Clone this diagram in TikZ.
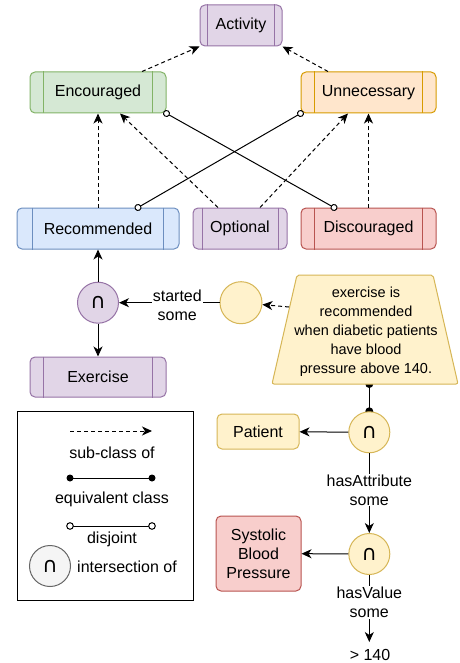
\documentclass[tikz,border=0pt]{standalone}
\usepackage{fontspec}
\setmainfont{Liberation Sans}
\newfontfamily\djv{DejaVu Sans}
\usetikzlibrary{arrows.meta,calc,backgrounds}
\definecolor{pfill}{HTML}{E1D5E7}\definecolor{pline}{HTML}{9673A6}
\definecolor{gfill}{HTML}{D5E8D4}\definecolor{gline}{HTML}{82B366}
\definecolor{ofill}{HTML}{FFE6CC}\definecolor{oline}{HTML}{D79B00}
\definecolor{bfill}{HTML}{DAE8FC}\definecolor{bline}{HTML}{6C8EBF}
\definecolor{rfill}{HTML}{F8CECC}\definecolor{rline}{HTML}{B85450}
\definecolor{yfill}{HTML}{FFF2CC}\definecolor{yline}{HTML}{D6B656}
\definecolor{cfill}{HTML}{F5F5F5}\definecolor{cline}{HTML}{666666}
\newcommand{\procbars}[2]{%
  \draw[#2,line width=1pt] ($(#1.north west)!0.1!(#1.north east)$) -- ($(#1.south west)!0.1!(#1.south east)$);
  \draw[#2,line width=1pt] ($(#1.north west)!0.9!(#1.north east)$) -- ($(#1.south west)!0.9!(#1.south east)$);}
\tikzset{
  txt/.style={font=\fontsize{16pt}{19pt}\selectfont},
  cls/.style={txt, draw, rounded corners=5pt, line width=1pt, minimum height=41pt, inner sep=0pt},
  isect/.style={circle, draw, line width=1pt, minimum size=41pt, inner sep=0pt, font=\djv\fontsize{21pt}{22pt}\selectfont},
  tip/.tip={Stealth[length=10pt,width=9pt,inset=3pt]},
  sub/.style={-tip, dash pattern=on 4pt off 3pt, line width=1pt},
  arr/.style={-tip, line width=1pt},
  disj/.style={{Circle[open,length=7pt,width=7pt,fill=white]}-{Circle[open,length=7pt,width=7pt,fill=white]}, line width=1pt, shorten <=-3.5pt, shorten >=-3.5pt},
  lbl/.style={txt, fill=white, inner sep=1pt, align=center},
}
\begin{document}
\begin{tikzpicture}[x=1pt,y=-1pt]
\useasboundingbox (0,0) rectangle (459,663);
\begin{scope}[on background layer]
\fill[white] (0,0) rectangle (459,663);
\end{scope}
% class boxes
\node[cls, fill=pfill, draw=pline, minimum width=82pt] (act) at (241,25.5) {Activity};
\node[cls, fill=gfill, draw=gline, minimum width=136pt] (enc) at (98,92.5) {Encouraged};
\node[cls, fill=ofill, draw=oline, minimum width=135pt] (unn) at (368.5,92.5) {Unnecessary};
\node[cls, fill=bfill, draw=bline, minimum width=162pt] (rec) at (98,228.5) {Recommended};
\node[cls, fill=pfill, draw=pline, minimum width=94pt] (opt) at (240,228.5) {Optional};
\node[cls, fill=rfill, draw=rline, minimum width=135pt] (disc) at (368.5,228.5) {Discouraged};
\node[cls, fill=pfill, draw=pline, minimum width=136pt, minimum height=40pt] (exe) at (98,377) {Exercise};
\procbars{act}{pline}\procbars{enc}{gline}\procbars{unn}{oline}
\procbars{rec}{bline}\procbars{opt}{pline}\procbars{disc}{rline}\procbars{exe}{pline}
% circles
\node[isect, fill=pfill, draw=pline] (i1) at (98,302.7) {∩};
\node[isect, fill=yfill, draw=yline, minimum size=42pt] (yc) at (241,302.7) {};
\node[isect, fill=yfill, draw=yline] (i2) at (369.3,432.3) {∩};
\node[isect, fill=yfill, draw=yline] (i3) at (369.3,554) {∩};
% trapezoid
\draw[fill=yfill, draw=yline, line width=1pt, rounded corners=2pt] (272,384) -- (297,275) -- (433,275) -- (458,384) -- cycle;
\node[align=center, font=\fontsize{14.5pt}{19pt}\selectfont] (trap) at (366,331.5) {exercise is\\recommended\\when diabetic patients\\have blood\\pressure above 140.};
\coordinate (trapL) at (289,307);
\coordinate (trapB) at (369.3,384);
% other boxes
\node[cls, fill=yfill, draw=yline, minimum width=82pt, minimum height=35pt] (pat) at (258,431.5) {Patient};
\node[cls, fill=rfill, draw=rline, minimum width=85pt, minimum height=75pt, align=center] (sbp) at (258.5,553.5) {Systolic\\Blood\\Pressure};
\node[txt, inner sep=0pt] (gt) at (370,655) {> 140};
\coordinate (vend) at (369.3,642);
% sub-class connectors
\draw[sub] ([xshift=44pt]enc.north) -- (act.south west);
\draw[sub] ([xshift=-40.5pt]unn.north) -- (act.south east);
\draw[sub] (rec.north) -- (enc.south);
\draw[sub] ([xshift=-22pt]opt.north) -- ([xshift=22pt]enc.south);
\draw[sub] ([xshift=20pt]opt.north) -- ([xshift=-20.5pt]unn.south);
\draw[sub] (disc.north) -- (unn.south);
% disjoint connectors
\draw[disj] (enc.south east) -- ([xshift=-34.5pt]disc.north);
\draw[disj] ([xshift=40pt]rec.north) -- (unn.south west);
% restrictions
\draw[arr] (i1) -- (rec);
\draw[arr] (i1) -- (exe);
\draw[arr] (yc) -- node[lbl, pos=0.42, yshift=-3pt] {started\\some} (i1);
\draw[sub] (trapL) -- (yc);
\begin{scope}[on background layer]
\draw[line width=1pt] (trapB) -- (i2.center);
\fill (trapB) circle (4pt);
\fill (i2.north) circle (4pt);
\end{scope}
\draw[arr] (i2) -- (pat);
\draw[arr] (i3) -- (sbp);
\draw[arr] (i2) -- node[lbl, pos=0.46] {hasAttribute\\some} (i3);
\draw[arr] (i3) -- node[lbl, pos=0.41] {hasValue\\some} (vend);
% legend
\node[draw, line width=1pt, minimum width=176pt, minimum height=189pt, inner sep=0pt] (leg) at (105,505.5) {};
\coordinate (la1) at (70,431); \coordinate (la2) at (152,431);
\draw[sub] (la1) -- (la2);
\node[txt] (lt1) at (112,453) {sub-class of};
\coordinate (lb1) at (70,478); \coordinate (lb2) at (152,478);
\draw[line width=1pt] (lb1) -- (lb2);
\fill (lb1) circle (3.5pt); \fill (lb2) circle (3.5pt);
\node[txt] (lt2) at (112,499) {equivalent class};
\coordinate (lc1) at (70,526); \coordinate (lc2) at (152,526);
\draw[line width=1pt] (lc1) -- (lc2);
\draw[line width=1pt, fill=white] (lc1) circle (3.3pt); \draw[line width=1pt, fill=white] (lc2) circle (3.3pt);
\node[txt] (lt3) at (112,539) {disjoint};
\node[isect, fill=cfill, draw=cline] (lci) at (50,566) {∩};
\node[txt, anchor=west, inner sep=0pt] (lt4) at (77,567) {intersection of};
\end{tikzpicture}
\end{document}
